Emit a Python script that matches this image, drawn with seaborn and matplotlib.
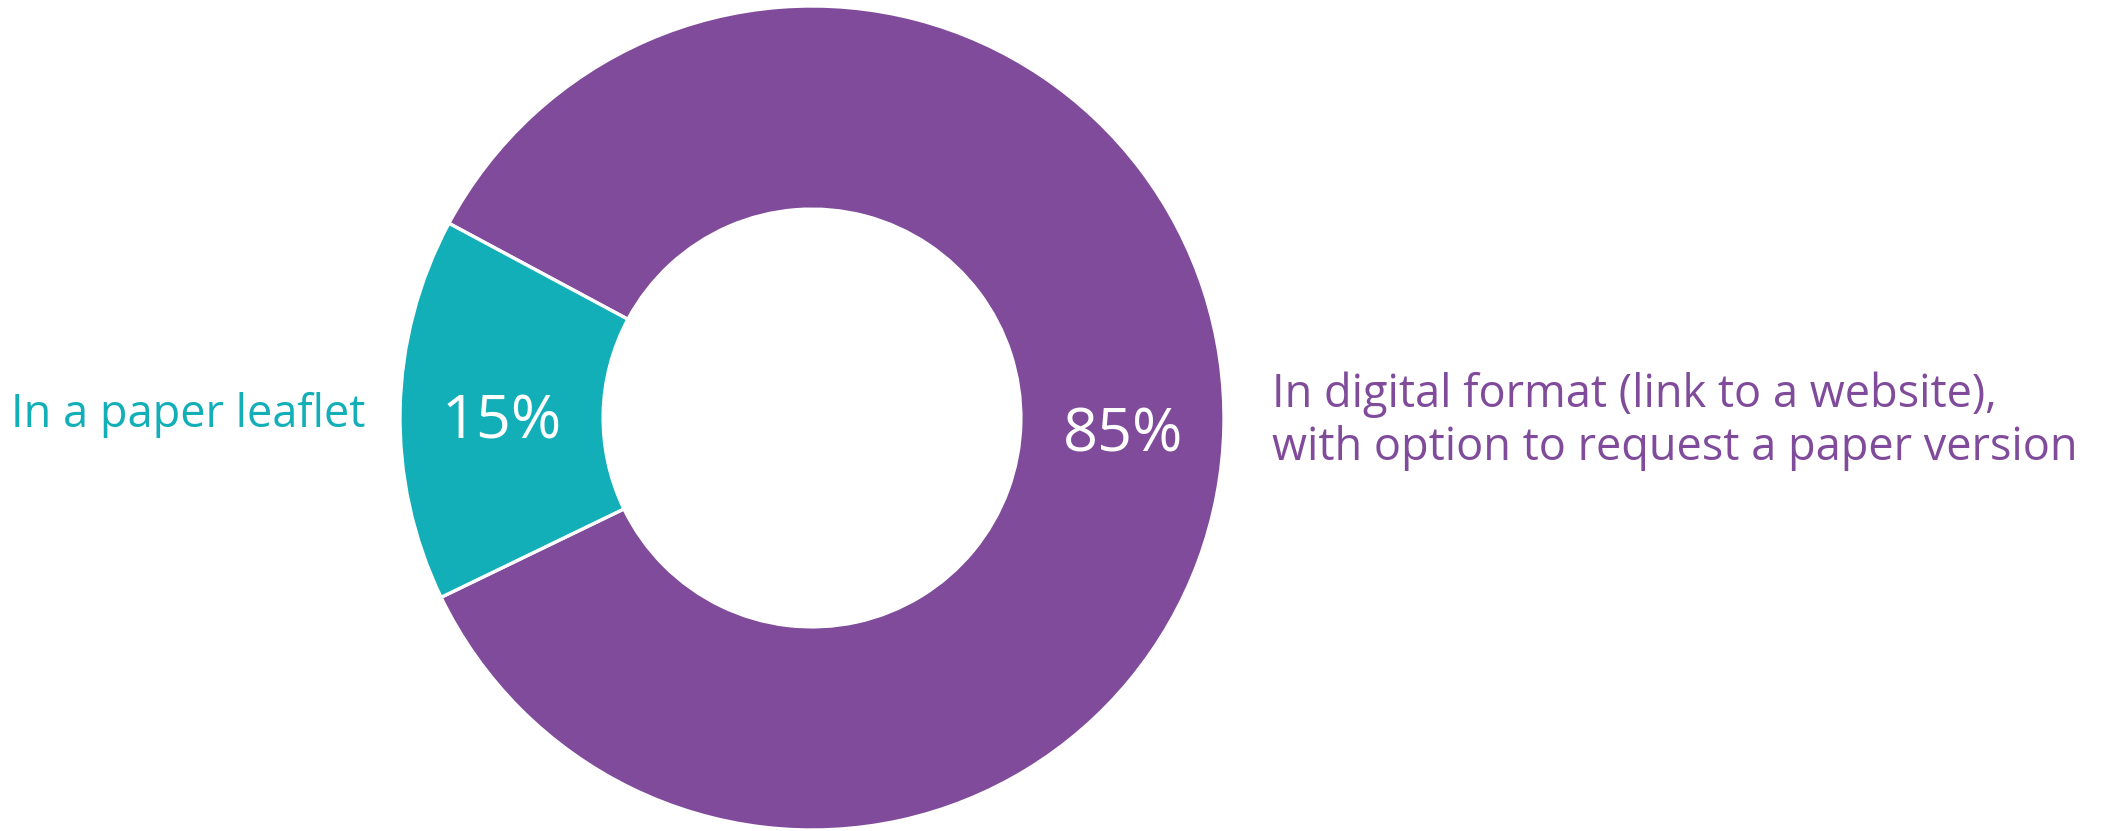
import matplotlib
matplotlib.use("Agg")
import matplotlib.pyplot as plt
import seaborn as sns

# Survey result: preferred format for receiving the information
categories = [
    "In digital format (link to a website),\nwith option to request a paper version",
    "In a paper leaflet",
]
shares = [85, 15]
colors = ["#7F4B9A", "#13AFB8"]

sns.set_theme(style="white")
plt.rcParams["font.family"] = ["Open Sans", "DejaVu Sans"]

W, H = 2102, 831
fig = plt.figure(figsize=(W / 100, H / 100), dpi=100)
fig.patch.set_facecolor("white")

# square axes holding the donut, centred at (812, 418) px with radius 412 px
cx, cy, R = 812, 418, 412
ax = fig.add_axes([(cx - R) / W, (H - cy - R) / H, 2 * R / W, 2 * R / H])

wedges, texts, autotexts = ax.pie(
    shares,
    colors=colors,
    startangle=205.8,
    counterclock=True,
    radius=1.0,
    autopct="%.0f%%",
    pctdistance=0.754,
    wedgeprops=dict(width=0.493, edgecolor="white", linewidth=2.4),
    textprops=dict(color="white", fontsize=44),
)
ax.set_xlim(-1, 1)
ax.set_ylim(-1, 1)
ax.set_aspect("equal")
ax.axis("off")

# nudge the percentage labels slightly below the ring's mid-line
for t in autotexts:
    x, y = t.get_position()
    t.set_position((x, y - 11 / R))

# category labels beside the ring
label_size = 32.5
ax.text(-1.083, -0.022, categories[1], ha="right", va="baseline",
        color=colors[1], fontsize=label_size)
digital_lines = categories[0].split("\n")
ax.text(1.117, 0.026, digital_lines[0], ha="left", va="baseline",
        color=colors[0], fontsize=label_size)
ax.text(1.117, -0.102, digital_lines[1], ha="left", va="baseline",
        color=colors[0], fontsize=label_size)

fig.savefig("out.png", dpi=100, facecolor="white")
